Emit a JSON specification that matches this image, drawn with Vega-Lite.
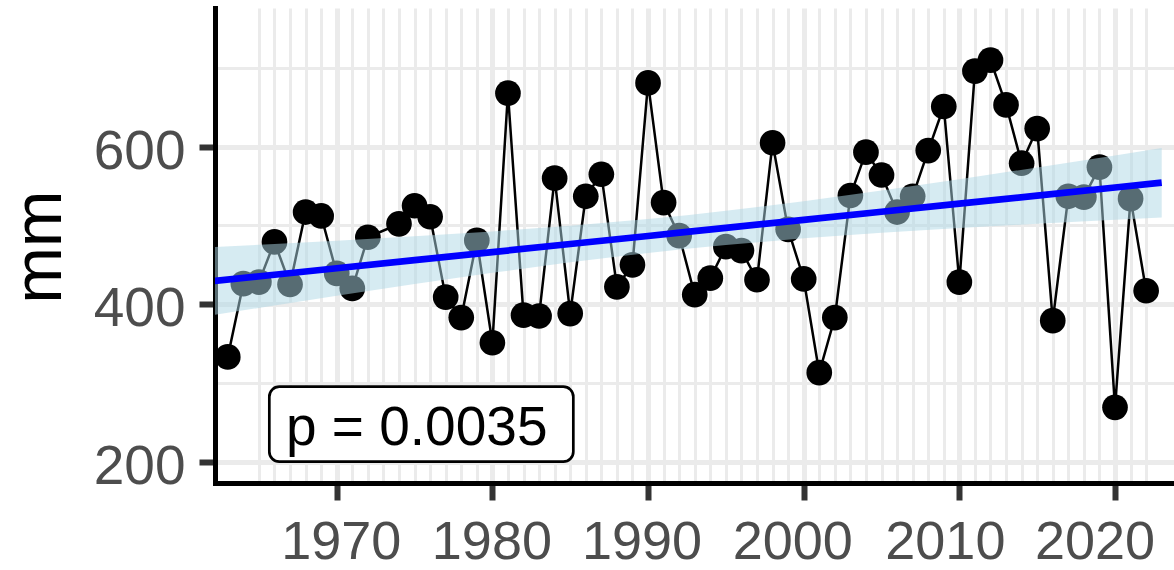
{
  "$schema": "https://vega.github.io/schema/vega-lite/v6.json",
  "width": 959,
  "height": 475,
  "autosize": {"type": "none"},
  "padding": {"left": 215, "top": 8, "right": 0, "bottom": 87},
  "background": "white",
  "config": {"view": {"stroke": null}},
  "datasets": {
    "obs": [
      {"year": 1963, "mm": 333}, {"year": 1964, "mm": 426}, {"year": 1965, "mm": 428},
      {"year": 1966, "mm": 479}, {"year": 1967, "mm": 425}, {"year": 1968, "mm": 517},
      {"year": 1969, "mm": 512}, {"year": 1970, "mm": 439}, {"year": 1971, "mm": 420},
      {"year": 1972, "mm": 485}, {"year": 1974, "mm": 502}, {"year": 1975, "mm": 525},
      {"year": 1976, "mm": 511}, {"year": 1977, "mm": 409}, {"year": 1978, "mm": 383},
      {"year": 1979, "mm": 481}, {"year": 1980, "mm": 351}, {"year": 1981, "mm": 668},
      {"year": 1982, "mm": 386}, {"year": 1983, "mm": 385}, {"year": 1984, "mm": 560},
      {"year": 1985, "mm": 388}, {"year": 1986, "mm": 537}, {"year": 1987, "mm": 565},
      {"year": 1988, "mm": 422}, {"year": 1989, "mm": 450}, {"year": 1990, "mm": 681},
      {"year": 1991, "mm": 529}, {"year": 1992, "mm": 487}, {"year": 1993, "mm": 412},
      {"year": 1994, "mm": 433}, {"year": 1995, "mm": 473}, {"year": 1996, "mm": 468},
      {"year": 1997, "mm": 431}, {"year": 1998, "mm": 605}, {"year": 1999, "mm": 495},
      {"year": 2000, "mm": 432}, {"year": 2001, "mm": 313}, {"year": 2002, "mm": 383},
      {"year": 2003, "mm": 538}, {"year": 2004, "mm": 593}, {"year": 2005, "mm": 564},
      {"year": 2006, "mm": 517}, {"year": 2007, "mm": 537}, {"year": 2008, "mm": 595},
      {"year": 2009, "mm": 651}, {"year": 2010, "mm": 428}, {"year": 2011, "mm": 696},
      {"year": 2012, "mm": 710}, {"year": 2013, "mm": 653}, {"year": 2014, "mm": 579},
      {"year": 2015, "mm": 623}, {"year": 2016, "mm": 379}, {"year": 2017, "mm": 537},
      {"year": 2018, "mm": 536}, {"year": 2019, "mm": 574}, {"year": 2020, "mm": 269},
      {"year": 2021, "mm": 534}, {"year": 2022, "mm": 417}
    ],
    "fit": [
      {"year": 1962, "fit": 429.2, "lo": 386, "hi": 472.4},
      {"year": 1966, "fit": 437.4, "lo": 398.4, "hi": 476.4},
      {"year": 1970, "fit": 445.6, "lo": 410.6, "hi": 480.6},
      {"year": 1975, "fit": 455.9, "lo": 425.6, "hi": 486.2},
      {"year": 1980, "fit": 466.1, "lo": 439.8, "hi": 492.4},
      {"year": 1985, "fit": 476.4, "lo": 453.2, "hi": 499.6},
      {"year": 1990, "fit": 486.6, "lo": 465.1, "hi": 508.1},
      {"year": 1992.5, "fit": 491.7, "lo": 470.4, "hi": 513.0},
      {"year": 1995, "fit": 496.9, "lo": 475.2, "hi": 518.6},
      {"year": 2000, "fit": 507.1, "lo": 483.6, "hi": 530.6},
      {"year": 2005, "fit": 517.4, "lo": 490.6, "hi": 544.2},
      {"year": 2010, "fit": 527.6, "lo": 496.6, "hi": 558.6},
      {"year": 2015, "fit": 537.9, "lo": 502.2, "hi": 573.6},
      {"year": 2020, "fit": 548.1, "lo": 507.3, "hi": 588.9},
      {"year": 2023, "fit": 554.3, "lo": 510.2, "hi": 598.4}
    ]
  },
  "layer": [
    {
      "data": {"name": "obs"},
      "mark": {"type": "line", "color": "black", "strokeWidth": 2.5, "clip": true},
      "encoding": {
        "x": {
          "field": "year", "type": "quantitative",
          "scale": {"domain": [1962.18, 2023.79], "nice": false, "zero": false},
          "axis": {
            "values": [1965,1966,1967,1968,1969,1970,1971,1972,1973,1974,1975,1976,1977,1978,1979,1980,1981,1982,1983,1984,1985,1986,1987,1988,1989,1990,1991,1992,1993,1994,1995,1996,1997,1998,1999,2000,2001,2002,2003,2004,2005,2006,2007,2008,2009,2010,2011,2012,2013,2014,2015,2016,2017,2018,2019,2020,2021,2022],
            "tickCount": 200,
            "format": "d",
            "labelExpr": "datum.value % 10 === 0 ? datum.label : ''",
            "grid": true,
            "gridColor": "#EBEBEB",
            "gridWidth": {"condition": {"test": "datum.value % 10 === 0", "value": 5}, "value": 3},
            "domain": true, "domainColor": "black", "domainWidth": 5, "domainCap": "square",
            "ticks": true, "tickColor": "#333333", "tickWidth": 6, "tickSize": 17,
            "tickOpacity": {"condition": {"test": "datum.value % 10 === 0", "value": 1}, "value": 0},
            "labelOffset": {"condition": [
              {"test": "datum.value === 1970", "value": 4},
              {"test": "datum.value === 1980", "value": -1},
              {"test": "datum.value === 1990", "value": -6.5},
              {"test": "datum.value === 2000", "value": -11.5},
              {"test": "datum.value === 2010", "value": -14.5},
              {"test": "datum.value === 2020", "value": -20.5}
            ], "value": 0},
            "labelFont": "Liberation Sans", "labelFontSize": 54, "labelColor": "#4D4D4D",
            "labelPadding": 15.5, "labelOverlap": false, "labelFlush": false, "labelBound": false,
            "title": null
          }
        },
        "y": {
          "field": "mm", "type": "quantitative",
          "scale": {"domain": [172.9, 776.1], "nice": false, "zero": false},
          "axis": {
            "values": [200, 300, 400, 500, 600, 700],
            "tickCount": 50,
            "labelExpr": "datum.value % 200 === 0 ? datum.label : ''",
            "grid": true,
            "gridColor": "#EBEBEB",
            "gridWidth": {"condition": {"test": "datum.value % 200 === 0", "value": 5}, "value": 3},
            "domain": true, "domainColor": "black", "domainWidth": 5, "domainCap": "square",
            "ticks": true, "tickColor": "#333333", "tickWidth": 6, "tickSize": 16,
            "tickOpacity": {"condition": {"test": "datum.value % 200 === 0", "value": 1}, "value": 0},
            "labelFont": "Liberation Sans", "labelFontSize": 55, "labelColor": "#4D4D4D",
            "labelPadding": 14, "labelOffset": 4.5, "labelOverlap": false, "labelFlush": false,
            "title": "mm",
            "titleFont": "Liberation Sans", "titleFontSize": 68, "titleFontWeight": "normal",
            "titleColor": "black", "titleAngle": -90, "titleAlign": "center",
            "titleBaseline": "alphabetic", "titleX": -155, "titleY": 238.7
          }
        }
      }
    },
    {
      "data": {"name": "obs"},
      "mark": {"type": "point", "filled": true, "shape": "circle", "size": 660, "color": "black", "opacity": 1, "clip": true},
      "encoding": {
        "x": {"field": "year", "type": "quantitative"},
        "y": {"field": "mm", "type": "quantitative"}
      }
    },
    {
      "data": {"name": "fit"},
      "mark": {"type": "area", "color": "#ADD8E6", "opacity": 0.5, "clip": true},
      "encoding": {
        "x": {"field": "year", "type": "quantitative"},
        "y": {"field": "lo", "type": "quantitative"},
        "y2": {"field": "hi"}
      }
    },
    {
      "data": {"name": "fit"},
      "mark": {"type": "line", "color": "#0000FF", "strokeWidth": 6.7, "clip": true},
      "encoding": {
        "x": {"field": "year", "type": "quantitative"},
        "y": {"field": "fit", "type": "quantitative"}
      }
    },
    {
      "data": {"values": [{"year": 1965.67, "year2": 1985.2, "lo": 200, "hi": 295.2}]},
      "mark": {"type": "rect", "fill": "white", "stroke": "black", "strokeWidth": 2.7, "cornerRadius": 10},
      "encoding": {
        "x": {"field": "year", "type": "quantitative"},
        "x2": {"field": "year2"},
        "y": {"field": "lo", "type": "quantitative"},
        "y2": {"field": "hi"}
      }
    },
    {
      "data": {"values": [{"year": 1966.74, "mm": 221.2, "label": "p = 0.0035"}]},
      "mark": {"type": "text", "align": "left", "baseline": "alphabetic", "font": "Liberation Sans", "fontSize": 55, "color": "black"},
      "encoding": {
        "x": {"field": "year", "type": "quantitative"},
        "y": {"field": "mm", "type": "quantitative"},
        "text": {"field": "label"}
      }
    }
  ]
}
